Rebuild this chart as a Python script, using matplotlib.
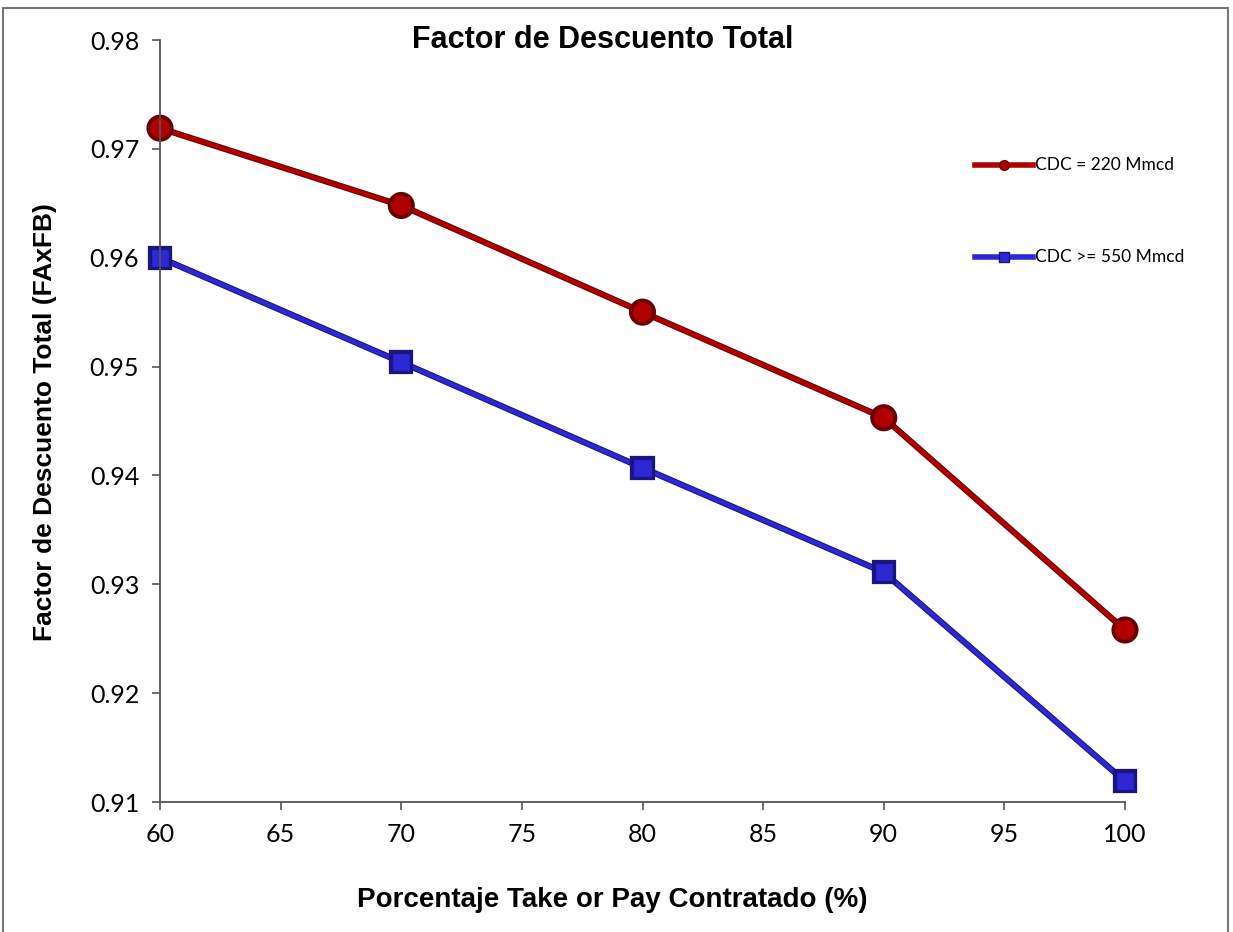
import matplotlib.pyplot as plt
import matplotlib.patheffects as pe
from matplotlib.patches import Rectangle
from matplotlib.lines import Line2D

# data
take_or_pay = [60, 70, 80, 90, 100]
cdc_220 = [0.9719, 0.9648, 0.9550, 0.9453, 0.9258]
cdc_550 = [0.9600, 0.9504, 0.9407, 0.9311, 0.9119]
label_220 = 'CDC = 220 Mmcd'
label_550 = 'CDC >= 550 Mmcd'

W, H = 1233, 932
fig = plt.figure(figsize=(W / 100, H / 100), dpi=100)
ax = fig.add_axes([160 / W, 1 - 802 / H, (1125 - 160) / W, (802 - 40) / H])

red, red_edge = '#B00000', '#6A0000'
blue, blue_edge = '#2E28D4', '#1A1580'

ax.plot(take_or_pay, cdc_220, color=red, lw=3, marker='o', ms=15,
        mfc=red, mec=red_edge, mew=1, clip_on=False,
        path_effects=[pe.Stroke(linewidth=4.5, foreground=red_edge), pe.Normal()])
ax.plot(take_or_pay, cdc_550, color=blue, lw=3, marker='s', ms=13,
        mfc=blue, mec=blue_edge, mew=1, clip_on=False,
        path_effects=[pe.Stroke(linewidth=4.5, foreground=blue_edge), pe.Normal()])

ax.set_xlim(60, 100)
ax.set_ylim(0.91, 0.98)
ax.set_xticks(range(60, 101, 5))
ax.set_yticks([0.91, 0.92, 0.93, 0.94, 0.95, 0.96, 0.97, 0.98])
ax.set_yticklabels(['%.2f' % v for v in ax.get_yticks()])
for s in ['top', 'right']:
    ax.spines[s].set_visible(False)
for s in ['left', 'bottom']:
    ax.spines[s].set_color('#555555')
    ax.spines[s].set_linewidth(1.3)
ax.tick_params(direction='out', length=6, width=1.2, color='#555555',
               labelsize=18, pad=9)
for t in ax.get_xticklabels() + ax.get_yticklabels():
    t.set_family('Lato')

fig.text(603 / W, 1 - 40 / H, 'Factor de Descuento Total', ha='center', va='center',
         family='Liberation Sans', weight='bold', fontsize=22)
fig.text(612 / W, 1 - 900 / H, 'Porcentaje Take or Pay Contratado (%)', ha='center',
         va='center', family='Liberation Sans', weight='bold', fontsize=20)
fig.text(45 / W, 1 - 422 / H, 'Factor de Descuento Total (FAxFB)', ha='center',
         va='center', rotation=90, family='Liberation Sans', weight='bold', fontsize=19)

# legend entries placed like the reference
for y, lab, c, ec, m in [(165, label_220, red, red_edge, 'o'),
                          (257, label_550, blue, blue_edge, 's')]:
    yy = 1 - y / H
    fig.add_artist(Line2D([975 / W, 1033 / W], [yy, yy], color=c, lw=4,
                          marker=None, transform=fig.transFigure))
    fig.add_artist(Line2D([1004 / W], [yy], color=c, marker=m, ms=7, mfc=c,
                          mec=ec, transform=fig.transFigure))
    fig.text(1035 / W, yy, lab, ha='left', va='center', family='Lato', fontsize=12.5)

# outer frame
fig.add_artist(Rectangle((3 / W, -0.05), (1228 - 3) / W, 1.05 - 8 / H,
                         transform=fig.transFigure, fill=False,
                         edgecolor='#777777', lw=1.5))

fig.savefig('out.png', dpi=100)
